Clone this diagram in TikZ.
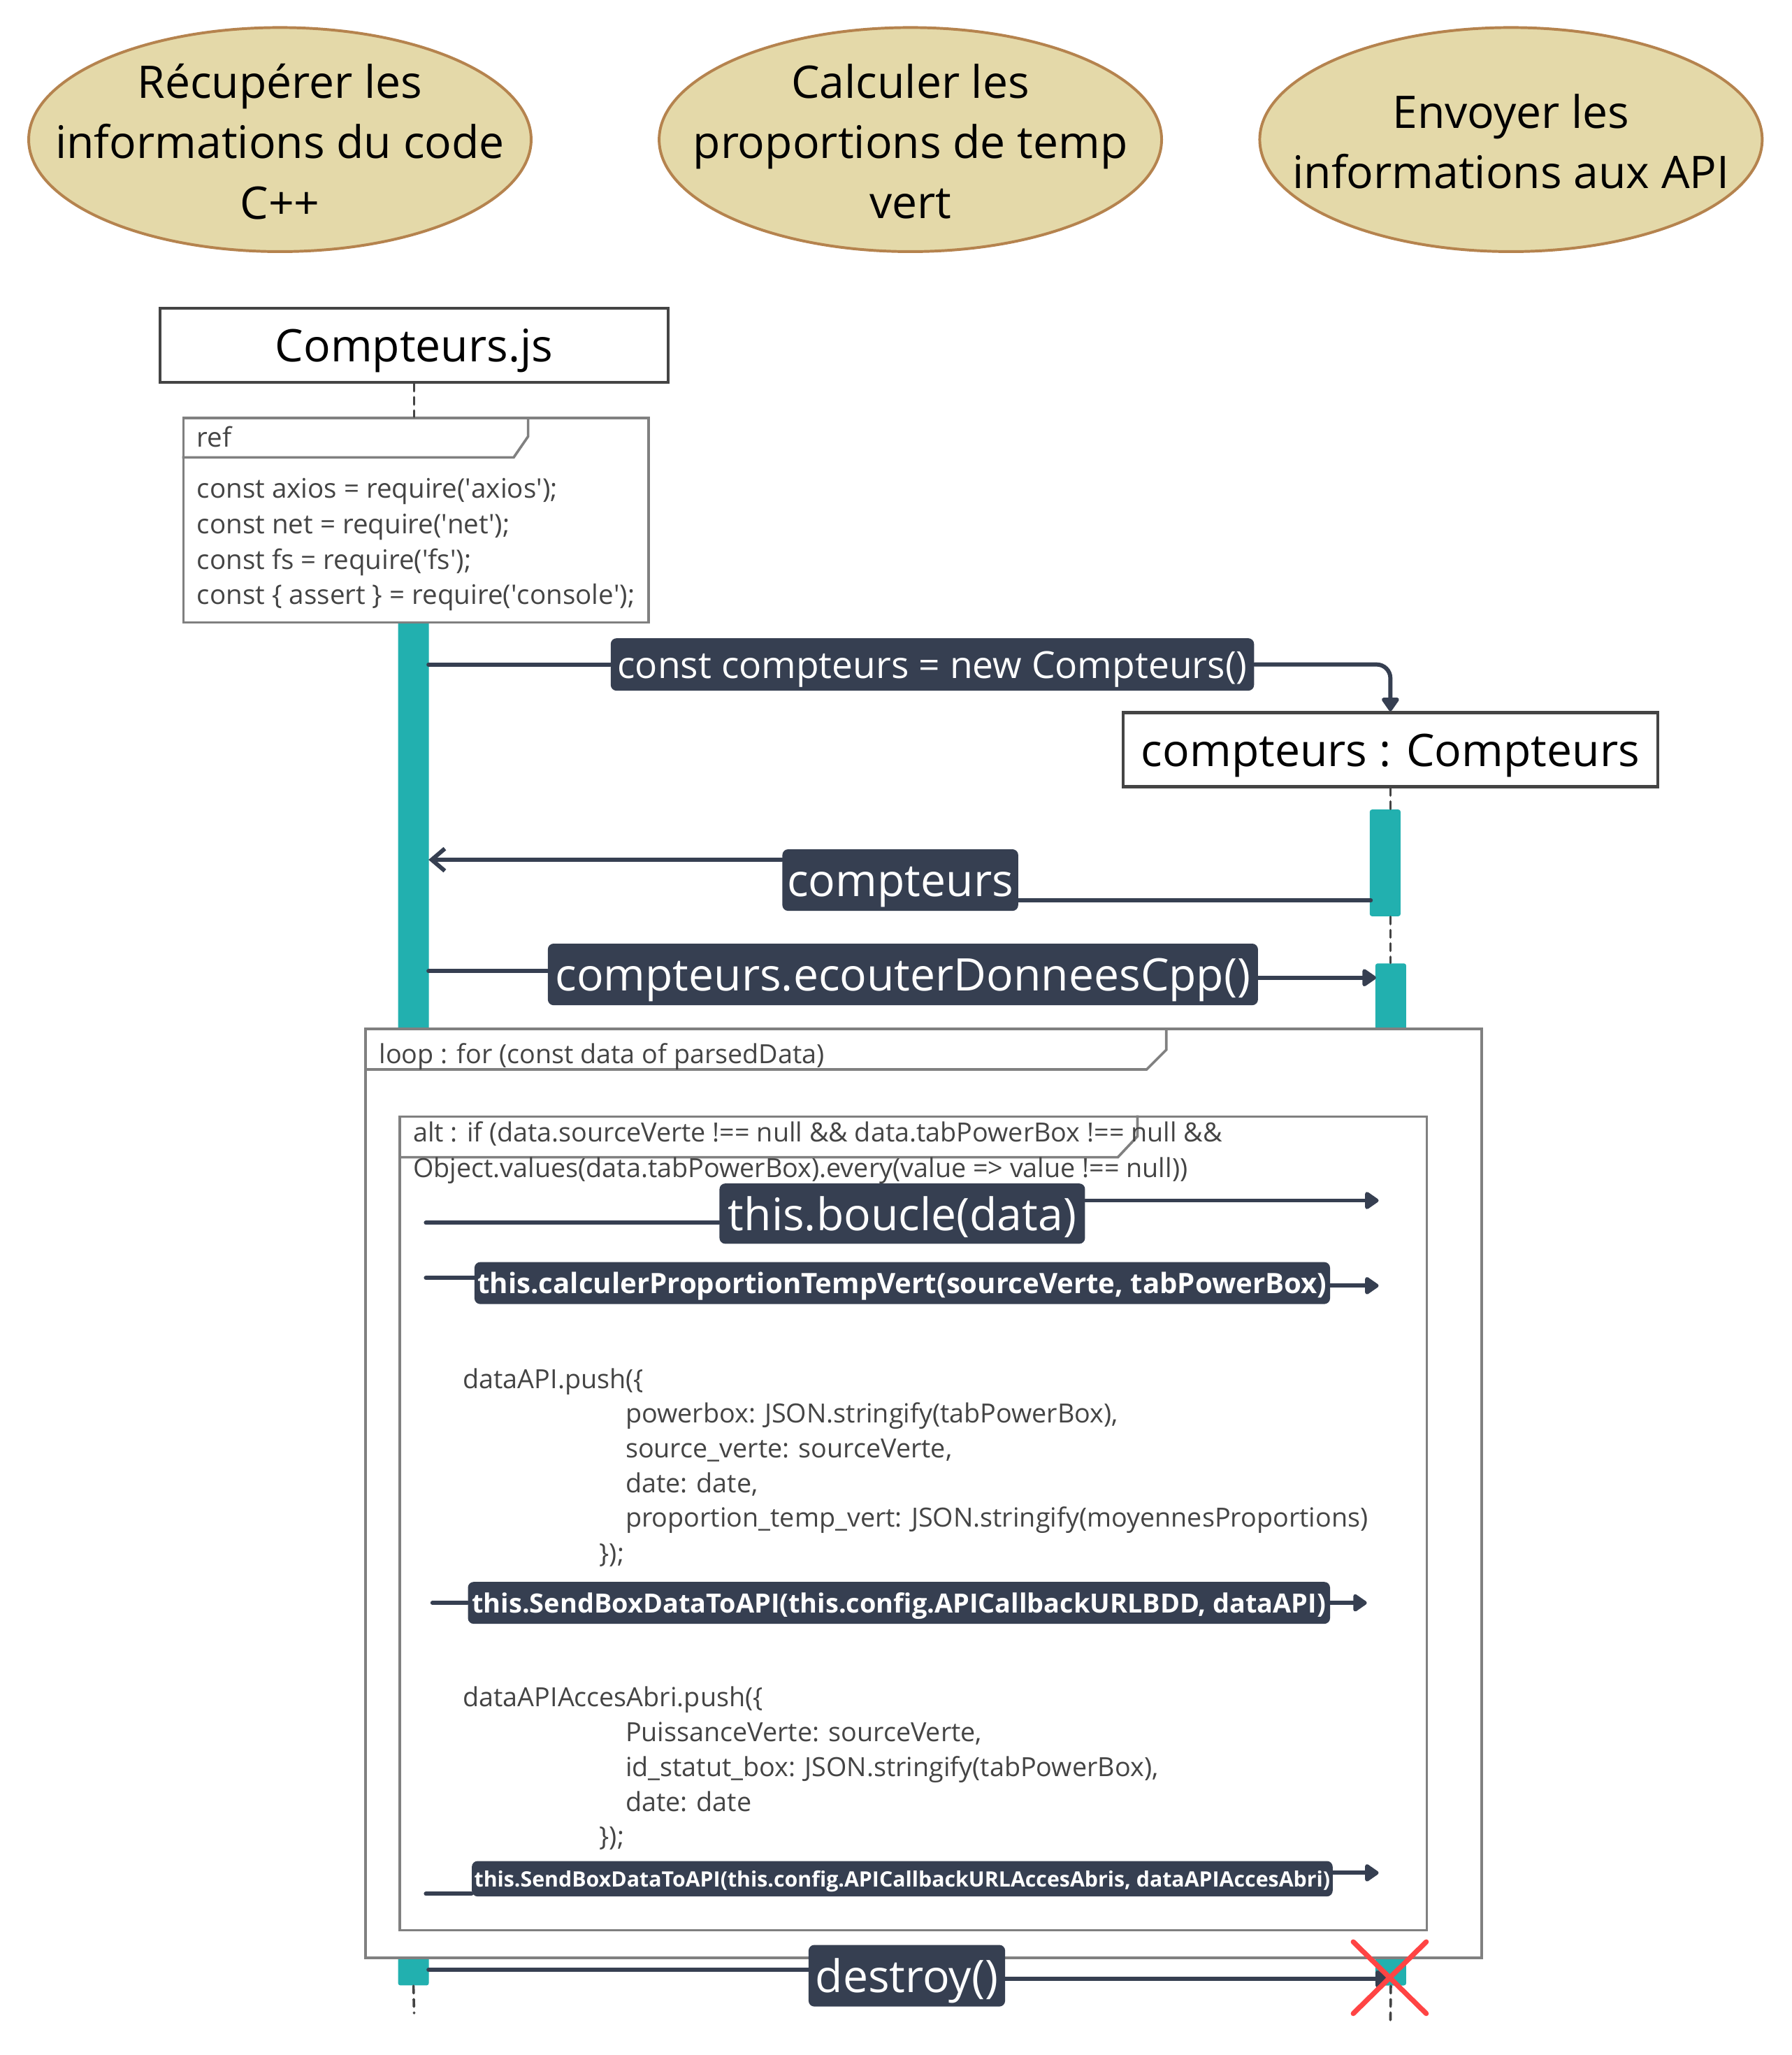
\documentclass[tikz,border=0pt]{standalone}
\usepackage{fontspec}
\setmainfont{Open Sans}
\usepackage{tikz}
\usetikzlibrary{calc}
\usetikzlibrary{arrows.meta}
\usetikzlibrary{shapes.geometric}
\usetikzlibrary{positioning}
\definecolor{tealbar}{HTML}{22B0AF}
\definecolor{navy}{HTML}{363F51}
\definecolor{khaki}{HTML}{E4D9A9}
\definecolor{khakiline}{HTML}{B5834E}
\definecolor{framegray}{HTML}{808080}
\definecolor{textgray}{HTML}{444444}
\definecolor{killred}{HTML}{FF4444}
\tikzset{goal/.style={ellipse,fill=khaki,draw=khakiline,line width=1.2pt,minimum width=7.67cm,minimum height=3.42cm,inner sep=0pt}}
\tikzset{goaltxt/.style={align=center,inner sep=0pt,font=\fontsize{19.5}{26.2}\selectfont}}
\tikzset{obj/.style={rectangle,draw=textgray,fill=white,line width=1.3pt,minimum height=1.13cm,inner sep=0pt,text height=19.5pt,text depth=5.1pt,font=\fontsize{19.5}{24}\selectfont}}
\tikzset{act/.style={rectangle,fill=tealbar,rounded corners=1pt,minimum width=0.47cm,inner sep=0pt}}
\tikzset{life/.style={draw=textgray,line width=1.1pt,line cap=round,dash pattern=on 3.2pt off 2.6pt}}
\tikzset{msg/.style={draw=navy,line width=1.8pt,line cap=round}}
\tikzset{tip/.style={-{Triangle[length=0.23cm,width=0.30cm,round]}}}
\tikzset{lbl/.style={fill=navy,text=white,rounded corners=2.5pt,inner sep=0pt}}
\tikzset{lsize/.style={font=\fontsize{#1}{#1}\selectfont,text height=#1pt,text depth=0.26*#1pt}}
\tikzset{blsize/.style={font=\bfseries\fontsize{#1}{#1}\selectfont,text height=#1pt,text depth=0.26*#1pt}}
\tikzset{frm/.style={draw=framegray,line width=1.1pt,inner sep=0pt}}
\tikzset{code/.style={text=textgray,inner sep=0pt,text height=12pt,text depth=2.6pt,font=\fontsize{11.7}{15.4}\selectfont}}
\tikzset{codein/.style={code,font=\fontsize{11.45}{15}\selectfont}}

\begin{document}
\begin{tikzpicture}[x=0.02cm,y=-0.02cm]
\useasboundingbox (0,0) rectangle (1367,1568);

% goals
\node[goal] (E1) at (213.6,106.5) {};
\node[goal] (E2) at (694.7,106.5) {};
\node[goal] (E3) at (1153,106.5) {};
\node[goaltxt] (e1) at ($(E1)+(0,1.5)$) {Récupérer les\\informations du code\\C++};
\node[goaltxt] (e2) at ($(E2)+(0,1.5)$) {Calculer les\\proportions de temp\\vert};
\node[goaltxt] (e3) at ($(E3)+(0,1.5)$) {Envoyer les\\informations aux API};

% objects
\node[obj,minimum width=7.76cm] (C) at (316,263.5) {Compteurs.js};
\node[obj,minimum width=8.16cm] (K) at (1061,572) {compteurs : Compteurs};

% activations
\node[act,minimum height=20.82cm] (A) at (315.5,994.5) {};
\node[act,minimum height=1.63cm] (B1) at (1057,658.4) {};
\node[act,minimum height=15.6cm] (B2) at (1061.3,1125) {};
\coordinate (Aend) at (316,1536);
\coordinate (Bend) at (1061,1545);

% ref frame
\node[frm,fill=white,minimum width=7.1cm,minimum height=3.12cm,anchor=north west] (R) at (139,318) {};
\draw[frm] ($(R.north west)+(0,31)$) -- ++(253,0) -- ++(11,-16) -- ++(0,-15);
\node[code,anchor=west] (rt) at ($(R.north west)+(11,15)$) {ref};
\foreach \t [count=\i] in {{const axios = require(\textquotesingle axios\textquotesingle);},
  {const net = require(\textquotesingle net\textquotesingle);},
  {const fs = require(\textquotesingle fs\textquotesingle);},
  {const \{ assert \} = require(\textquotesingle console\textquotesingle);}}
  \node[code,anchor=west] (r\i) at (150,345+27*\i) {\t};

% lifelines
\draw[life] (C.south) -- (R.north -| C.south);
\draw[life] (K.south) -- (K.south |- B1.north);
\draw[life] (K.south |- B1.south) -- (K.south |- B2.north);
\draw[life] (A.south) -- (Aend);
\draw[life] (B2.south) -- (Bend);

% loop and alt frames
\node[frm,fill=white,minimum width=17.04cm,minimum height=14.18cm,anchor=north west] (L) at (278,784) {};
\draw[frm] ($(L.north west)+(0,32)$) -- ++(597,0) -- ++(15,-15) -- ++(0,-17);
\node[codein,anchor=west] (lt) at ($(L.north west)+(11,19)$) {loop : for (const data of parsedData)};
\node[frm,minimum width=15.68cm,minimum height=12.42cm,anchor=north west] (T) at (304,851) {};
\draw[frm] ($(T.north west)+(0,32)$) -- ++(549,0) -- ++(15,-16) -- ++(0,-16);
\node[codein,anchor=west] (tt1) at ($(T.north west)+(11,12)$) {alt : if (data.sourceVerte !== null \&\& data.tabPowerBox !== null \&\&};
\node[codein,anchor=west] (tt2) at ($(T.north west)+(11,39)$) {Object.values(data.tabPowerBox).every(value => value !== null))};

% code blocks
\node[codein,anchor=west] (d0) at (353,1051) {dataAPI.push(\{};
\foreach \t [count=\i] in {{powerbox: JSON.stringify(tabPowerBox),},
  {source\_verte: sourceVerte,}, {date: date,},
  {proportion\_temp\_vert: JSON.stringify(moyennesProportions)}}
  \node[codein,anchor=west] (d\i) at (477,1051+26.5*\i) {\t};
\node[codein,anchor=west] (d5) at (457,1184) {\});};
\node[codein,anchor=west] (p0) at (353,1294) {dataAPIAccesAbri.push(\{};
\foreach \t [count=\i] in {{PuissanceVerte: sourceVerte,},
  {id\_statut\_box: JSON.stringify(tabPowerBox),}, {date: date}}
  \node[codein,anchor=west] (p\i) at (477,1294+26.6*\i) {\t};
\node[codein,anchor=west] (p4) at (457,1400) {\});};

% messages
\node[lbl,lsize=16.2,minimum width=9.82cm,minimum height=0.8cm] (M1) at (711.5,507) {const compteurs = new Compteurs()};
\node[lbl,lsize=19.5,minimum width=3.6cm,minimum height=0.94cm] (M2) at (687,671.5) {compteurs};
\node[lbl,lsize=19.5,minimum width=10.84cm,minimum height=0.94cm] (M3) at (689,743.5) {compteurs.ecouterDonneesCpp()};
\node[lbl,lsize=19.5,minimum width=5.58cm,minimum height=0.92cm] (M4) at (688.5,926) {this.boucle(data)};
\node[lbl,blsize=12.2,minimum width=13.06cm,minimum height=0.64cm] (M5) at (688.5,979) {this.calculerProportionTempVert(sourceVerte, tabPowerBox)};
\node[lbl,blsize=11.5,minimum width=13.16cm,minimum height=0.64cm] (M6) at (686,1223) {this.SendBoxDataToAPI(this.config.APICallbackURLBDD, dataAPI)};
\node[lbl,blsize=9.2,minimum width=13.14cm,minimum height=0.54cm] (M7) at (688.5,1433.5) {this.SendBoxDataToAPI(this.config.APICallbackURLAccesAbris, dataAPIAccesAbri)};
\node[lbl,lsize=19.5,minimum width=3.0cm,minimum height=0.94cm] (M8) at (692,1507.5) {destroy()};

\coordinate (a1) at (327,507);
\draw[msg] (a1) -- (a1 -| M1.west);
\draw[msg,tip,rounded corners=6pt] (M1.east) -- (M1.east -| K.north) -- (K.north);
\coordinate (a2) at (1046,687);
\coordinate (a3) at (327,656);
\draw[msg] (a2) -- (a2 -| M2.east);
\draw[msg,-{Straight Barb[length=0.2cm,width=0.34cm]}] (a3 -| M2.west) -- (a3);
\coordinate (a4) at (327,741);
\coordinate (a5) at (1050,746);
\draw[msg] (a4) -- (a4 -| M3.west);
\draw[msg,tip] (a5 -| M3.east) -- (a5);
\coordinate (a6) at (325,933);
\coordinate (a7) at (1052,916);
\draw[msg] (a6) -- (a6 -| M4.west);
\draw[msg,tip] (a7 -| M4.east) -- (a7);
\coordinate (a8) at (325,975);
\coordinate (a9) at (1052,981);
\draw[msg] (a8) -- (a8 -| M5.west);
\draw[msg,tip] (a9 -| M5.east) -- (a9);
\coordinate (a10) at (330,1223);
\coordinate (a11) at (1043,1223);
\draw[msg] (a10) -- (a10 -| M6.west);
\draw[msg,tip] (a11 -| M6.east) -- (a11);
\coordinate (a12) at (325,1445);
\coordinate (a13) at (1052,1429);
\draw[msg] (a12) -- (a12 -| M7.west);
\draw[msg,tip] (a13 -| M7.east) -- (a13);
\coordinate (a14) at (327,1503);
\coordinate (a15) at (1060,1510);
\draw[msg] (a14) -- (a14 -| M8.west);
\draw[msg,tip] (a15 -| M8.east) -- (a15);

% destruction
\node[minimum width=1.1cm,minimum height=1.08cm,inner sep=0pt] (X) at (1060.5,1509) {};
\draw[killred,line width=2.2pt,line cap=round] (X.north west) -- (X.south east) (X.south west) -- (X.north east);

\end{tikzpicture}
\end{document}
